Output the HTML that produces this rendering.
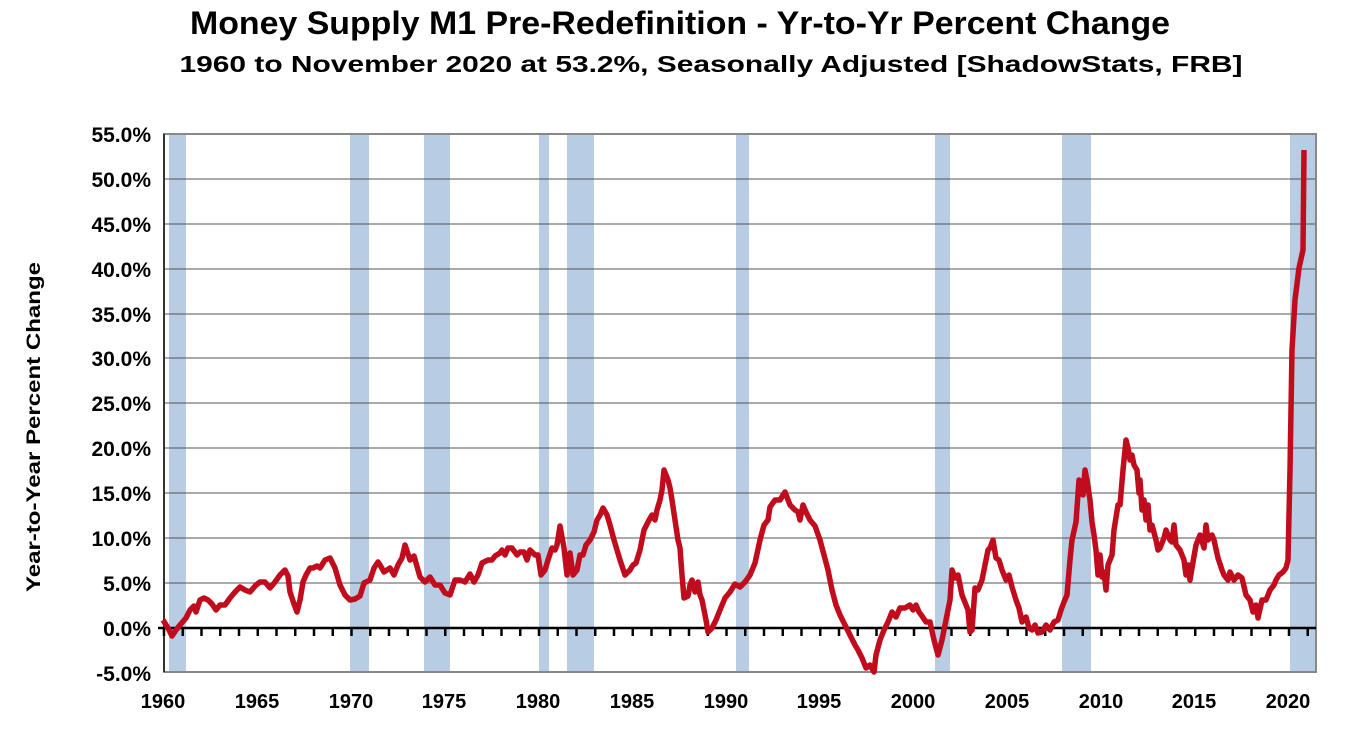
<!DOCTYPE html>
<html><head><meta charset="utf-8"><style>
body{margin:0;background:#fff;}
svg{display:block;font-family:"Liberation Sans",Arial,sans-serif;font-weight:bold;}
</style></head><body>
<svg width="1356" height="731" viewBox="0 0 1356 731" xmlns="http://www.w3.org/2000/svg">
<text x="680" y="34" font-size="32" text-anchor="middle" textLength="980" lengthAdjust="spacingAndGlyphs">Money Supply M1 Pre-Redefinition -  Yr-to-Yr Percent Change</text>
<text x="711" y="72" font-size="23" text-anchor="middle" textLength="1063" lengthAdjust="spacingAndGlyphs">1960 to November 2020 at 53.2%, Seasonally Adjusted  [ShadowStats, FRB]</text>
<g fill="#b8cce4">
<rect x="169" y="133" width="17" height="539"/><rect x="350" y="133" width="19" height="539"/>
<rect x="424" y="133" width="26" height="539"/><rect x="539" y="133" width="10" height="539"/>
<rect x="567" y="133" width="27" height="539"/><rect x="736" y="133" width="13" height="539"/>
<rect x="935" y="133" width="15" height="539"/><rect x="1062" y="133" width="29" height="539"/>
<rect x="1290" y="133" width="26" height="539"/>
</g>
<g stroke="#555" stroke-width="1">
<line x1="164" y1="179" x2="1316" y2="179"/><line x1="164" y1="224" x2="1316" y2="224"/>
<line x1="164" y1="269" x2="1316" y2="269"/><line x1="164" y1="314" x2="1316" y2="314"/>
<line x1="164" y1="358" x2="1316" y2="358"/><line x1="164" y1="403" x2="1316" y2="403"/>
<line x1="164" y1="448" x2="1316" y2="448"/><line x1="164" y1="493" x2="1316" y2="493"/>
<line x1="164" y1="538" x2="1316" y2="538"/><line x1="164" y1="583" x2="1316" y2="583"/>
</g>
<rect x="164" y="134" width="1152" height="538" fill="none" stroke="#888" stroke-width="2"/>
<line x1="164" y1="134" x2="164" y2="672" stroke="#333" stroke-width="2"/>
<path d="M164,628v8M182.75,628v8M201.5,628v8M220.25,628v8M239,628v8M257.75,628v8M276.5,628v8M295.25,628v8M314,628v8M332.75,628v8M351.5,628v8M370.25,628v8M389,628v8M407.75,628v8M426.5,628v8M445.25,628v8M464,628v8M482.75,628v8M501.5,628v8M520.25,628v8M539,628v8M557.75,628v8M576.5,628v8M595.25,628v8M614,628v8M632.75,628v8M651.5,628v8M670.25,628v8M689,628v8M707.75,628v8M726.5,628v8M745.25,628v8M764,628v8M782.75,628v8M801.5,628v8M820.25,628v8M839,628v8M857.75,628v8M876.5,628v8M895.25,628v8M914,628v8M932.75,628v8M951.5,628v8M970.25,628v8M989,628v8M1007.75,628v8M1026.5,628v8M1045.25,628v8M1064,628v8M1082.75,628v8M1101.5,628v8M1120.25,628v8M1139,628v8M1157.75,628v8M1176.5,628v8M1195.25,628v8M1214,628v8M1232.75,628v8M1251.5,628v8M1270.25,628v8M1289,628v8M1307.75,628v8" stroke="#000" stroke-width="2.5"/>
<line x1="158" y1="628" x2="1316" y2="628" stroke="#000" stroke-width="2.5"/>
<g font-size="21" text-anchor="end">
<text x="151" y="142">55.0%</text><text x="151" y="187">50.0%</text><text x="151" y="232">45.0%</text>
<text x="151" y="277">40.0%</text><text x="151" y="322">35.0%</text><text x="151" y="366">30.0%</text>
<text x="151" y="411">25.0%</text><text x="151" y="456">20.0%</text><text x="151" y="501">15.0%</text>
<text x="151" y="546">10.0%</text><text x="151" y="591">5.0%</text><text x="151" y="636">0.0%</text>
<text x="151" y="681">-5.0%</text>
</g>
<g font-size="20" text-anchor="middle">
<text x="163" y="708">1960</text><text x="257" y="708">1965</text><text x="351" y="708">1970</text>
<text x="444" y="708">1975</text><text x="538" y="708">1980</text><text x="632" y="708">1985</text>
<text x="726" y="708">1990</text><text x="819" y="708">1995</text><text x="913" y="708">2000</text>
<text x="1007" y="708">2005</text><text x="1101" y="708">2010</text><text x="1194" y="708">2015</text>
<text x="1288" y="708">2020</text>
</g>
<text transform="translate(40,427) rotate(-90)" font-size="19" text-anchor="middle" textLength="330" lengthAdjust="spacingAndGlyphs">Year-to-Year Percent Change</text>
<polyline fill="none" stroke="#c00c1c" stroke-width="5.5" stroke-linejoin="round" points="163,620 168,628 172,636 176,630 180,625 186,618 190,610 194,606 196,612 200,600 204,598 208,600 212,604 216,610 220,605 225,605 230,598 235,592 240,587 245,590 250,592 256,585 260,582 265,582 270,588 275,582 280,575 285,570 288,576 290,592 294,604 297,612 300,600 303,582 306,575 310,568 313,568 317,566 320,568 325,560 330,558 335,568 340,585 345,595 350,600 355,599 360,596 364,583 370,580 374,568 378,562 380,565 384,572 390,568 394,575 398,565 402,558 405,545 410,560 414,556 420,577 425,582 430,577 435,585 440,585 445,593 450,595 455,580 460,580 465,582 470,574 474,582 478,575 482,563 488,560 492,560 495,556 500,553 502,550 505,555 508,548 512,548 517,555 520,552 524,552 527,560 530,550 535,555 538,555 541,575 545,570 548,560 552,548 555,550 557,545 560,526 564,548 567,575 570,553 573,575 577,570 580,555 583,555 586,545 590,540 594,532 597,520 600,515 603,508 607,515 610,525 614,540 620,560 625,575 630,570 633,565 636,563 640,550 644,530 648,522 652,515 655,520 657,510 660,500 662,490 664,470 668,480 670,488 672,500 675,520 678,540 680,548 682,575 684,598 688,596 690,585 692,580 695,592 698,582 700,595 702,600 706,620 708,632 712,628 716,620 720,610 725,598 730,592 735,584 740,587 745,582 750,575 755,563 760,540 764,525 768,520 770,507 775,500 780,500 785,492 790,505 795,510 798,512 800,520 803,505 806,512 810,520 815,526 820,540 824,555 828,570 832,590 836,605 840,615 845,625 850,635 855,645 858,650 862,658 866,668 870,665 874,672 876,655 880,640 884,630 888,622 892,612 896,617 900,608 905,608 910,605 913,610 916,605 919,612 922,616 926,622 930,622 934,640 938,655 942,640 946,620 950,600 952,570 955,578 958,575 962,595 966,605 968,610 970,632 972,630 975,588 978,590 982,580 985,565 988,550 990,548 993,540 996,558 999,560 1002,570 1006,580 1009,575 1012,587 1016,600 1019,608 1022,622 1026,617 1029,628 1032,630 1035,625 1038,633 1042,632 1046,625 1050,630 1054,622 1058,620 1061,610 1064,602 1067,595 1070,560 1072,540 1076,522 1079,480 1081,490 1083,495 1085,470 1087,480 1090,500 1092,522 1094,535 1096,550 1098,575 1100,555 1102,577 1104,572 1106,590 1108,565 1112,555 1114,530 1118,505 1120,505 1123,470 1126,440 1128,448 1130,460 1132,455 1134,465 1137,470 1139,493 1140,480 1142,510 1144,500 1146,520 1148,505 1150,530 1152,525 1156,540 1158,550 1160,548 1164,538 1166,530 1170,540 1172,542 1174,525 1176,545 1180,550 1184,560 1186,575 1188,565 1190,580 1192,568 1196,545 1200,535 1204,548 1206,525 1208,540 1212,535 1214,540 1218,558 1222,570 1224,575 1228,580 1230,572 1234,580 1238,575 1242,578 1246,595 1250,600 1253,612 1256,605 1258,618 1262,600 1266,600 1270,590 1274,585 1276,580 1279,575 1283,572 1286,568 1288,560 1290,470 1292,350 1295,300 1299,268 1303,250 1304,150"/>
</svg>
</body></html>
